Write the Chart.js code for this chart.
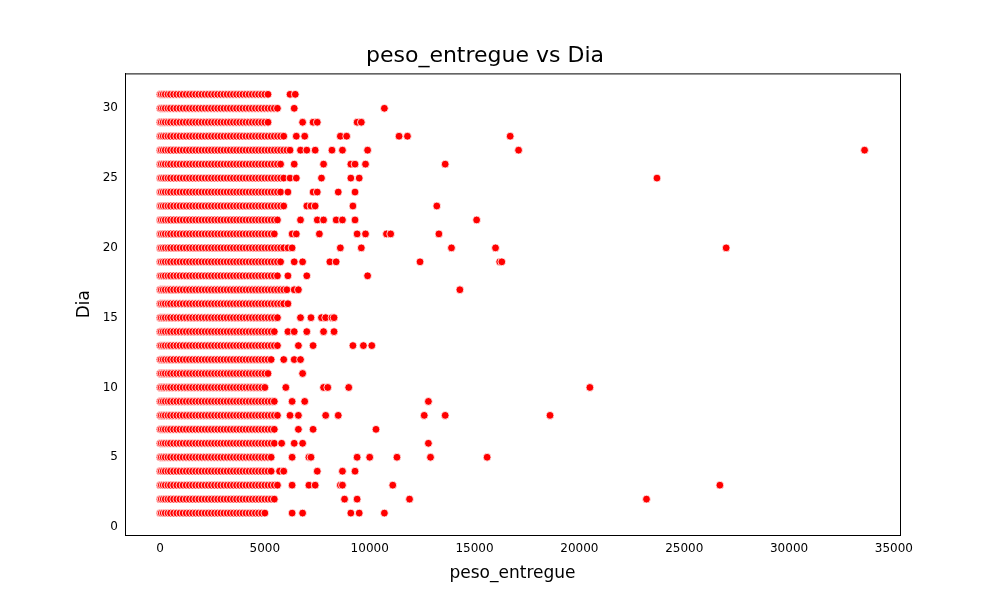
<!DOCTYPE html>
<html>
<head>
<meta charset="utf-8">
<script src="https://cdn.jsdelivr.net/npm/chart.js@4"></script>
<style>
  body { margin: 0; background: #fff; }
  canvas { display: block; }
</style>
</head>
<body>
<canvas id="c" width="1000" height="600"></canvas>
<script>
// dense cluster x values shared by every day (cut at that day's extent)
const coreX = [0, 60, 150, 250, 380, 500, 650, 800, 950, 1100, 1250, 1400, 1550, 1700, 1850,
  2000, 2150, 2300, 2450, 2600, 2750, 2900, 3050, 3200, 3350, 3500, 3650, 3800, 3950,
  4100, 4250, 4400, 4550, 4700, 4850, 5000, 5150, 5300, 5450, 5600, 5750, 5900, 6050, 6200];

const days = [1, 2, 3, 4, 5, 6, 7, 8, 9, 10, 11, 12, 13, 14, 15, 16,
  17, 18, 19, 20, 21, 22, 23, 24, 25, 26, 27, 28, 29, 30, 31];

const dayMax = [5100, 5500, 5600, 5400, 5400, 5500, 5500, 5600, 5500, 5000, 5200, 5300, 5600, 5500, 5700, 5900,
  6100, 5700, 5800, 6000, 5500, 5700, 5900, 5800, 5900, 5800, 6300, 5900, 5200, 5700, 5250];

const extras = [
  [6300, 6800, 9100, 9500, 10700],
  [8800, 9400, 11900, 23200],
  [6300, 7100, 7400, 8600, 8700, 11100, 26700],
  [5700, 5900, 7500, 8700, 9300],
  [6300, 7100, 7200, 9400, 10000, 11300, 12900, 15600],
  [5800, 6400, 6800, 12800],
  [6600, 7300, 10300],
  [6200, 6600, 7900, 8500, 12600, 13600, 18600],
  [6300, 6900, 12800],
  [6000, 7800, 8000, 9000, 20500],
  [6800],
  [5900, 6400, 6700],
  [6600, 7300, 9200, 9700, 10100],
  [6100, 6400, 7000, 7800, 8300],
  [6700, 7200, 7700, 7900, 8200, 8300],
  [6100],
  [6400, 6600, 14300],
  [6100, 7000, 9900],
  [6400, 6800, 8100, 8400, 12400, 16200, 16300],
  [6100, 6300, 8600, 9600, 13900, 16000, 27000],
  [6300, 6500, 7600, 9400, 9800, 10800, 11000, 13300],
  [6700, 7500, 7800, 8400, 8700, 9300, 15100],
  [7000, 7200, 7400, 9200, 13200],
  [6100, 7300, 7500, 8500, 9300],
  [6200, 6500, 7700, 9100, 9500, 23700],
  [6400, 7800, 9100, 9300, 9800, 13600],
  [6700, 7000, 7400, 8200, 8700, 9900, 17100, 33600],
  [6500, 6900, 8600, 8900, 11400, 11800, 16700],
  [6800, 7300, 7500, 9400, 9600],
  [6400, 10700],
  [6200, 6450]
];

const xTicks = [0, 5000, 10000, 15000, 20000, 25000, 30000, 35000];
const yTicks = [0, 5, 10, 15, 20, 25, 30];

const points = [];
days.forEach((d, i) => {
  coreX.filter(x => x <= dayMax[i]).forEach(x => points.push({ x: x, y: d }));
  extras[i].forEach(x => points.push({ x: x, y: d }));
});

const font = 'DejaVu Sans';

// full box around the plot area, like matplotlib spines
const frame = {
  id: 'frame',
  afterDraw(chart) {
    const { ctx, chartArea: a } = chart;
    ctx.save();
    ctx.strokeStyle = '#000';
    ctx.lineWidth = 1;
    ctx.strokeRect(a.left + 0.5, a.top + 0.5, a.right - a.left, a.bottom - a.top);
    ctx.restore();
  }
};

new Chart(document.getElementById('c'), {
  type: 'scatter',
  data: {
    datasets: [{
      data: points,
      backgroundColor: '#ff0000',
      borderColor: '#ffffff',
      borderWidth: 0.8,
      pointRadius: 3.9,
      pointHoverRadius: 3.9
    }]
  },
  options: {
    responsive: false,
    animation: false,
    layout: { padding: { left: 70, right: 100, top: 0, bottom: 0 } },
    plugins: {
      legend: { display: false },
      tooltip: { enabled: false },
      title: {
        display: true,
        text: 'peso_entregue vs Dia',
        color: '#000',
        font: { family: font, size: 22, weight: 'normal' },
        padding: { top: 43, bottom: 4 }
      }
    },
    scales: {
      x: {
        type: 'linear',
        min: -1670,
        max: 35290,
        afterBuildTicks: ax => { ax.ticks = xTicks.map(v => ({ value: v })); },
        afterFit: ax => { ax.height = 65; },
        grid: { display: false, drawTicks: true, tickLength: 4, tickColor: '#000' },
        border: { color: '#000' },
        ticks: { color: '#000', font: { family: font, size: 12 }, maxRotation: 0, autoSkip: false, callback: v => String(v) },
        title: { display: true, text: 'peso_entregue', color: '#000', font: { family: font, size: 17 }, padding: { top: 2, bottom: 16 } }
      },
      y: {
        type: 'linear',
        min: -0.57,
        max: 32.5,
        afterBuildTicks: ax => { ax.ticks = yTicks.map(v => ({ value: v })); },
        afterFit: ax => { ax.width = 55; },
        grid: { display: false, drawTicks: true, tickLength: 4, tickColor: '#000' },
        border: { color: '#000' },
        ticks: { color: '#000', font: { family: font, size: 12 }, callback: v => String(v) },
        title: { display: true, text: 'Dia', color: '#000', font: { family: font, size: 17 }, padding: { bottom: 4 } }
      }
    }
  },
  plugins: [frame]
});
</script>
</body>
</html>
